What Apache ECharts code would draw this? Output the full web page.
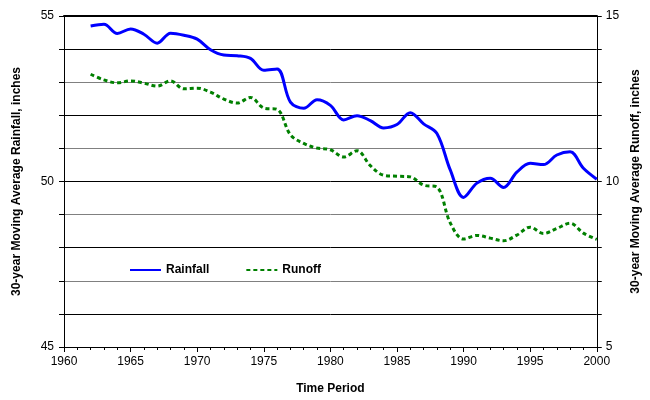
<!DOCTYPE html>
<html>
<head>
<meta charset="utf-8">
<script src="https://cdn.jsdelivr.net/npm/echarts@6/dist/echarts.min.js"></script>
<style>
html, body { margin: 0; padding: 0; background: #fff; }
#chart { width: 650px; height: 400px; }
</style>
</head>
<body>
<div id="chart"></div>
<script>
// 30-year moving averages
var years = [1962, 1963, 1964, 1965, 1966, 1967, 1968, 1969, 1970, 1971,
	1972, 1973, 1974, 1975, 1976, 1977, 1978, 1979, 1980, 1981,
	1982, 1983, 1984, 1985, 1986, 1987, 1988, 1989, 1990, 1991,
	1992, 1993, 1994, 1995, 1996, 1997, 1998, 1999, 2000];

var rainfall = [54.70, 54.75, 54.47, 54.61, 54.45, 54.18, 54.48, 54.42, 54.30, 53.98,
	53.82, 53.80, 53.72, 53.36, 53.40, 52.40, 52.21, 52.47, 52.30, 51.86,
	51.99, 51.84, 51.62, 51.72, 52.08, 51.74, 51.45, 50.35, 49.52, 49.95,
	50.10, 49.82, 50.28, 50.55, 50.51, 50.80, 50.90, 50.40, 50.07];

var runoff = [13.24, 13.07, 12.98, 13.04, 12.97, 12.88, 13.04, 12.80, 12.82, 12.70,
	12.49, 12.37, 12.54, 12.22, 12.18, 11.41, 11.15, 11.01, 10.96, 10.74,
	10.93, 10.48, 10.19, 10.16, 10.14, 9.89, 9.83, 8.75, 8.26, 8.37,
	8.29, 8.21, 8.38, 8.62, 8.43, 8.58, 8.74, 8.44, 8.25];

var seriesNames = ['Rainfall', 'Runoff'];

var toPairs = function (xs, ys) {
	var res = [];
	for (var i = 0; i < xs.length; i++) {
		res.push([xs[i], ys[i]]);
	}
	return res;
};

// only every fifth unit gets a label, the others just a tick
var everyFive = function (val) {
	return val % 5 === 0 ? String(val) : '';
};

var font = 'Arial, "Liberation Sans", sans-serif';
var myChart = echarts.init(document.getElementById('chart'));

var option = {
	backgroundColor: '#fff',
	animation: false,
	textStyle: { fontFamily: font },
	grid: { left: 64, right: 44, top: 16, bottom: 50 },
	legend: {
		data: seriesNames,
		left: 124,
		top: 259,
		itemWidth: 31,
		itemHeight: 10,
		itemGap: 36,
		itemStyle: { opacity: 0 },
		textStyle: { fontSize: 12, fontWeight: 'bold', color: '#000', fontFamily: font }
	},
	xAxis: [
		{
			type: 'value',
			min: 1960,
			max: 2000,
			interval: 5,
			name: 'Time Period',
			nameLocation: 'middle',
			nameGap: 36,
			nameTextStyle: { fontSize: 12, fontWeight: 'bold', color: '#000' },
			axisLine: { lineStyle: { color: '#000', width: 1 } },
			axisTick: { length: 5, lineStyle: { color: '#000' } },
			minorTick: { show: true, splitNumber: 5, length: 3, lineStyle: { color: '#000' } },
			axisLabel: { fontSize: 12, color: '#000', margin: 9, formatter: function (v) { return String(v); } },
			splitLine: { show: false }
		},
		{
			type: 'value',
			position: 'top',
			min: 1960,
			max: 2000,
			axisLine: { show: true, lineStyle: { color: '#000', width: 2 } },
			axisTick: { show: false },
			axisLabel: { show: false },
			splitLine: { show: false }
		}
	],
	yAxis: [
		{
			type: 'value',
			min: 45,
			max: 55,
			interval: 1,
			name: '30-year Moving Average Rainfall, inches',
			nameLocation: 'middle',
			nameRotate: 90,
			nameGap: 41,
			nameTextStyle: { fontSize: 12, fontWeight: 'bold', color: '#000' },
			axisLine: { show: true, lineStyle: { color: '#000' } },
			axisTick: { show: true, length: 5, lineStyle: { color: '#000' } },
			axisLabel: { fontSize: 12, color: '#000', margin: 10, formatter: everyFive },
			splitLine: {
				show: true,
				lineStyle: {
					width: 1,
					color: ['#000', '#000', '#808080', '#000', '#808080', '#000',
						'#808080', '#000', '#808080', '#000', '#000']
				}
			}
		},
		{
			type: 'value',
			position: 'right',
			min: 5,
			max: 15,
			interval: 1,
			name: '30-year Moving Average Runoff, inches',
			nameLocation: 'middle',
			nameRotate: 90,
			nameGap: 26,
			nameTextStyle: { fontSize: 12, fontWeight: 'bold', color: '#000' },
			axisLine: { show: true, lineStyle: { color: '#000' } },
			axisTick: { show: true, length: 5, lineStyle: { color: '#000' } },
			axisLabel: { fontSize: 12, color: '#000', margin: 9, formatter: everyFive },
			splitLine: { show: false }
		}
	],
	series: [
		{
			name: seriesNames[0],
			type: 'line',
			yAxisIndex: 0,
			smooth: 0.35,
			symbol: 'none',
			lineStyle: { color: '#0000ff', width: 3 },
			itemStyle: { color: '#0000ff' },
			data: toPairs(years, rainfall)
		},
		{
			name: seriesNames[1],
			type: 'line',
			yAxisIndex: 1,
			smooth: 0.35,
			symbol: 'none',
			lineStyle: { color: '#008000', width: 3, type: [4, 3] },
			itemStyle: { color: '#008000' },
			data: toPairs(years, runoff)
		}
	]
};
myChart.setOption(option);
</script>
</body>
</html>
